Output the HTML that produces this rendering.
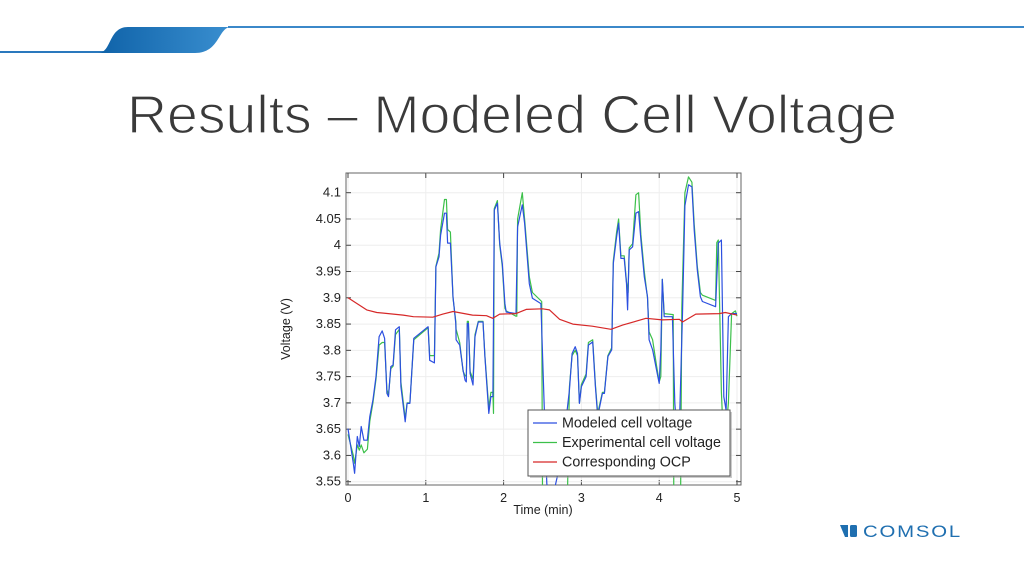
<!DOCTYPE html>
<html><head><meta charset="utf-8"><style>
html,body{margin:0;padding:0;background:#fff;}
svg{display:block;font-family:"Liberation Sans",sans-serif;}
</style></head><body>
<svg width="1024" height="576" viewBox="0 0 1024 576">
<defs>
<linearGradient id="hg" x1="0" x2="1"><stop offset="0" stop-color="#0f62a8"/><stop offset="1" stop-color="#3a8fd0"/></linearGradient>
<clipPath id="pc"><rect x="346" y="173" width="395" height="312"/></clipPath>
</defs>
<g>
<rect x="0" y="51" width="110" height="2" fill="#2a78bd"/>
<path d="M98 53 C112 53 108 27 128 27 L231 27 C218 27 220 53 195 53 Z" fill="url(#hg)"/>
<rect x="228" y="26" width="796" height="2" fill="#3b88c9"/>
</g>
<text x="127" y="133" font-size="54" fill="#3a3a3a" stroke="#fff" stroke-width="1.3" textLength="770" lengthAdjust="spacingAndGlyphs">Results – Modeled Cell Voltage</text>
<g id="chart"></g>
<g>
<path d="M840 525 L848 525 L848 537 L845 537 Z" fill="#1f6fb0"/>
<rect x="850" y="525" width="7" height="12" rx="1.5" fill="#1f6fb0"/>
<text x="863" y="537" font-size="17" fill="#1f6fb0" letter-spacing="1.5" textLength="99" lengthAdjust="spacingAndGlyphs">COMSOL</text>
</g>
</svg>
<script>
const xTicks=[0,1,2,3,4,5];
const yTicks=[3.55,3.6,3.65,3.7,3.75,3.8,3.85,3.9,3.95,4,4.05,4.1];
const yTickLabels=["3.55","3.6","3.65","3.7","3.75","3.8","3.85","3.9","3.95","4","4.05","4.1"];
const modeledT=[0,0.068,0.085,0.12,0.145,0.17,0.205,0.248,0.28,0.32,0.36,0.4,0.44,0.47,0.5,0.52,0.55,0.58,0.61,0.66,0.68,0.735,0.76,0.795,0.846,1.03,1.05,1.11,1.13,1.17,1.19,1.24,1.265,1.28,1.316,1.35,1.385,1.39,1.436,1.48,1.505,1.52,1.534,1.547,1.57,1.607,1.632,1.675,1.735,1.76,1.81,1.837,1.863,1.88,1.92,1.95,1.983,2.017,2.034,2.16,2.18,2.24,2.27,2.33,2.37,2.48,2.52,2.555,2.6,2.75,2.846,2.88,2.92,2.95,2.974,3.0,3.06,3.09,3.145,3.18,3.21,3.27,3.295,3.34,3.39,3.41,3.453,3.478,3.508,3.55,3.58,3.594,3.615,3.658,3.7,3.735,3.765,3.808,3.85,3.87,3.915,3.966,4.0,4.02,4.04,4.064,4.17,4.2,4.25,4.3,4.33,4.376,4.42,4.45,4.49,4.53,4.555,4.725,4.76,4.8,4.83,4.86,4.89,4.93,5.0];
const modeledV=[3.651,3.585,3.566,3.636,3.617,3.655,3.629,3.629,3.674,3.705,3.75,3.826,3.837,3.823,3.718,3.712,3.769,3.772,3.839,3.845,3.731,3.664,3.699,3.699,3.823,3.845,3.781,3.776,3.959,3.978,4.019,4.061,4.061,4.004,4.004,3.902,3.851,3.82,3.81,3.762,3.743,3.74,3.851,3.851,3.756,3.734,3.826,3.854,3.854,3.788,3.68,3.712,3.712,4.067,4.08,4.004,3.965,3.889,3.873,3.87,4.035,4.077,4.042,3.927,3.899,3.889,3.7,3.547,3.5,3.6,3.724,3.794,3.807,3.794,3.699,3.731,3.75,3.81,3.816,3.731,3.674,3.718,3.718,3.788,3.801,3.965,4.016,4.042,3.975,3.975,3.927,3.877,3.991,3.997,4.061,4.064,4.01,3.94,3.902,3.82,3.801,3.762,3.737,3.8,3.935,3.864,3.864,3.7,3.6,3.87,4.075,4.115,4.111,4.029,3.953,3.902,3.893,3.883,4.004,4.01,3.712,3.686,3.864,3.87,3.87];
const experimentalT=[0,0.068,0.085,0.12,0.145,0.17,0.205,0.25,0.28,0.32,0.36,0.4,0.44,0.47,0.5,0.52,0.55,0.58,0.61,0.66,0.68,0.735,0.76,0.795,0.846,1.03,1.05,1.11,1.13,1.17,1.19,1.24,1.265,1.28,1.316,1.35,1.385,1.39,1.436,1.48,1.505,1.52,1.534,1.547,1.57,1.607,1.632,1.675,1.735,1.76,1.81,1.837,1.863,1.87,1.88,1.92,1.95,1.983,2.017,2.034,2.16,2.17,2.18,2.24,2.27,2.33,2.37,2.49,2.505,2.55,2.8,2.846,2.88,2.92,2.95,2.974,3.0,3.06,3.09,3.145,3.18,3.21,3.27,3.295,3.34,3.39,3.41,3.453,3.478,3.508,3.55,3.58,3.6,3.615,3.658,3.7,3.735,3.765,3.808,3.85,3.87,3.915,3.966,4.0,4.02,4.04,4.064,4.18,4.19,4.27,4.29,4.33,4.376,4.42,4.45,4.49,4.53,4.555,4.725,4.74,4.76,4.8,4.82,4.86,4.89,4.93,4.98,5.0];
const experimentalV=[3.64,3.6,3.585,3.62,3.61,3.62,3.605,3.612,3.665,3.7,3.745,3.81,3.815,3.815,3.725,3.715,3.765,3.77,3.83,3.84,3.74,3.67,3.7,3.7,3.82,3.843,3.79,3.79,3.96,3.985,4.03,4.087,4.087,4.03,4.025,3.9,3.855,3.84,3.815,3.76,3.752,3.75,3.855,3.855,3.76,3.745,3.83,3.855,3.855,3.79,3.69,3.72,3.72,3.68,4.07,4.085,4.0,3.96,3.88,3.875,3.865,3.865,4.05,4.1,4.05,3.94,3.91,3.893,3.35,3.35,3.35,3.73,3.79,3.8,3.79,3.7,3.735,3.755,3.815,3.82,3.735,3.68,3.72,3.72,3.79,3.805,3.97,4.025,4.05,3.98,3.98,3.93,3.91,3.995,4.003,4.096,4.1,4.02,3.95,3.9,3.835,3.82,3.77,3.74,3.75,3.935,3.87,3.868,3.4,3.4,3.88,4.1,4.13,4.12,4.04,3.96,3.91,3.905,3.895,4.005,4.01,3.72,3.65,3.65,3.7,3.87,3.875,3.865,3.82];
const ocpT=[0,0.24,0.37,0.71,0.84,1.09,1.22,1.35,1.6,1.78,1.86,1.95,2.16,2.29,2.5,2.59,2.72,2.89,3.14,3.38,3.53,3.83,4.04,4.26,4.3,4.47,4.77,4.85,5.0];
const ocpV=[3.9,3.877,3.872,3.867,3.864,3.863,3.869,3.874,3.867,3.866,3.861,3.869,3.87,3.878,3.879,3.877,3.859,3.85,3.846,3.84,3.848,3.861,3.858,3.859,3.854,3.869,3.87,3.872,3.867];

const NS="http://www.w3.org/2000/svg";
const X0=348,X1=737,Y0=481.7,Y1=192.7;
const xs=t=>X0+(X1-X0)*t/5;
const ys=v=>Y0+(Y1-Y0)*(v-3.55)/0.55;
const chart=document.getElementById('chart');
function mk(tag,attrs,parent){const e=document.createElementNS(NS,tag);for(const k in attrs)e.setAttribute(k,attrs[k]);(parent||chart).appendChild(e);return e;}
const frame=mk('rect',{x:346,y:173,width:395,height:312,fill:'#fff',stroke:'#666','stroke-width':1});


xTicks.forEach(t=>{
  const g=mk('line',{x1:xs(t),x2:xs(t),y1:173,y2:485,stroke:'#eee'});
  
  
  mk('line',{x1:xs(t),x2:xs(t),y1:485,y2:480,stroke:'#444'});
  mk('line',{x1:xs(t),x2:xs(t),y1:173,y2:178,stroke:'#444'});
  const l=mk('text',{x:xs(t),y:502,'font-size':12.5,'text-anchor':'middle',fill:'#222'});
  l.textContent=String(t);
  
  
});
yTicks.forEach((v,i)=>{
  const g=mk('line',{x1:346,x2:741,y1:ys(v),y2:ys(v),stroke:'#eee'});
  
  
  mk('line',{x1:346,x2:351,y1:ys(v),y2:ys(v),stroke:'#444'});
  mk('line',{x1:741,x2:736,y1:ys(v),y2:ys(v),stroke:'#444'});
  const l=mk('text',{x:341,y:ys(v)+4,'font-size':13,'text-anchor':'end',fill:'#222'});
  l.textContent=yTickLabels[i];
  
  
});
const xt=mk('text',{x:543,y:514,'font-size':12.5,'text-anchor':'middle',fill:'#222'});
xt.textContent='Time (min)';


const yt=mk('text',{x:0,y:0,'font-size':12.5,'text-anchor':'middle',fill:'#222',transform:'translate(290,329) rotate(-90)'});
yt.textContent='Voltage (V)';


const clipG=mk('g',{'clip-path':'url(#pc)'});
function line(T,V,color,name){
  const d=T.map((t,i)=>(i?'L':'M')+xs(t).toFixed(1)+' '+ys(V[i]).toFixed(1)).join(' ');
  const p=mk('path',{d:d,fill:'none',stroke:color,'stroke-width':1.2,'stroke-linejoin':'round'},clipG);
  
  
}
line(experimentalT,experimentalV,'#3cc04a','experimental-voltage-line');
line(modeledT,modeledV,'#2c4fe0','modeled-voltage-line');
line(ocpT,ocpV,'#d62828','ocp-line');
const lg=mk('g',{});


mk('rect',{x:530,y:412,width:202,height:66,fill:'#999',opacity:0.5},lg);
mk('rect',{x:528,y:410,width:202,height:66,fill:'#fff',stroke:'#555'},lg);
[['Modeled cell voltage','#2c4fe0'],['Experimental cell voltage','#3cc04a'],['Corresponding OCP','#d62828']].forEach((e,i)=>{
  const y=423+i*19.5;
  const ent=mk('g',{},lg);
  
  
  mk('line',{x1:533,x2:557,y1:y,y2:y,stroke:e[1],'stroke-width':1.3},ent);
  const t=mk('text',{x:562,y:y+4.5,'font-size':14.3,fill:'#222'},ent);
  t.textContent=e[0];
});
</script>
</body></html>
